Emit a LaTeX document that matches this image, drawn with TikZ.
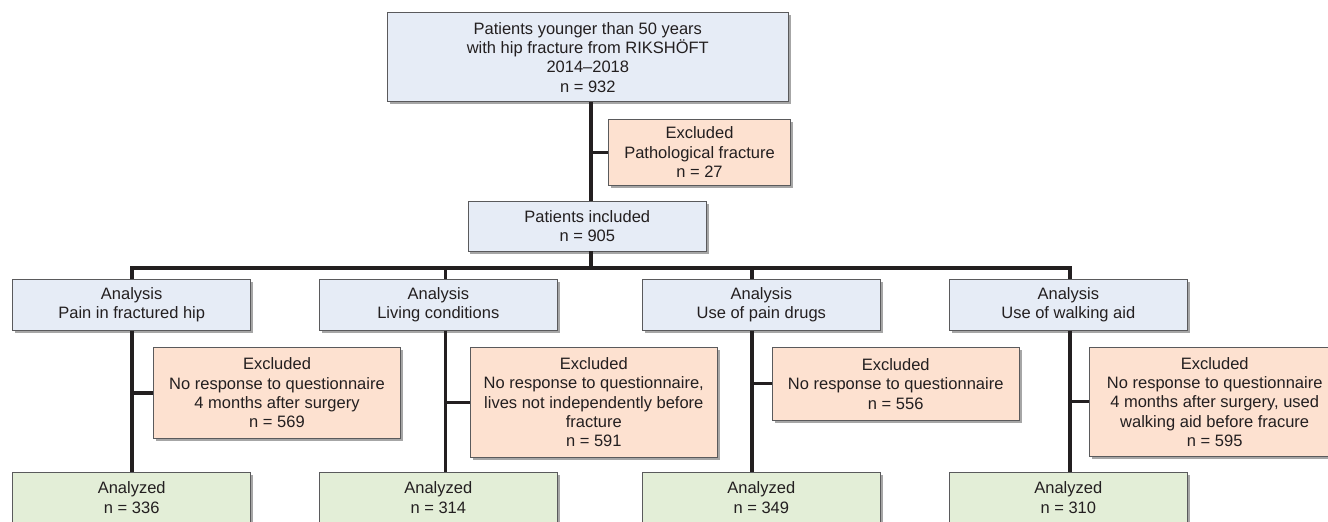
\documentclass[tikz,border=0pt]{standalone}
\usepackage{fontspec}
\setmainfont{Liberation Sans}
\usetikzlibrary{shadows}
\definecolor{boxblue}{HTML}{E6ECF6}
\definecolor{boxpeach}{HTML}{FDE1D0}
\definecolor{boxgreen}{HTML}{E3EED7}
\definecolor{boxline}{HTML}{5A5A5C}
\definecolor{ink}{HTML}{231F20}

\begin{document}
\begin{tikzpicture}[x=1pt,y=-1pt,
  box/.style={draw=boxline, line width=0.8pt, align=center, inner sep=0pt, text=ink,
    font=\fontsize{16.5}{19.3}\selectfont,
    drop shadow={shadow xshift=2.5pt, shadow yshift=-2.5pt, opacity=0.35, fill=black}},
  stage/.style={box, fill=boxblue},
  excl/.style={box, fill=boxpeach},
  done/.style={box, fill=boxgreen},
  conn/.style={draw=ink, line width=3.3pt}]
  \path[use as bounding box, clip] (0,0) rectangle (1328,522); % page size

  \coordinate (trunk) at (591,0);    %main line
  \coordinate (bus) at (0,268);      %branch line
  \coordinate (colA) at (132,0);
  \coordinate (colB) at (445.7,0);
  \coordinate (colC) at (752,0);
  \coordinate (colD) at (1070,0);

  \node[stage, minimum width=401pt, minimum height=89pt] (top) at (587.8,57.2)
    {Patients younger than 50 years\\with hip fracture from RIKSHÖFT\\2014–2018\\n = 932};
  \node[excl, minimum width=182.4pt, minimum height=65.7pt] (exTop) at (699.5,152.2)
    {Excluded\\Pathological fracture\\n = 27};
  \node[stage, minimum width=238.7pt, minimum height=50pt] (incl) at (587.3,226)
    {Patients included\\n = 905};

  % analysis boxes
  \node[stage, minimum width=238pt, minimum height=50.5pt] (aPain) at (131.7,305) {Analysis\\Pain in fractured hip};
  \node[stage, minimum width=238pt, minimum height=50.5pt] (aLiving) at (438.3,305) {Analysis\\Living conditions};
  \node[stage, minimum width=238pt, minimum height=50.5pt] (aDrugs) at (761.3,305) {Analysis\\Use of pain drugs};
  \node[stage, minimum width=238pt, minimum height=50.5pt] (aWalk) at (1068.3,305) {Analysis\\Use of walking aid};

  % excluded boxes
  \node[excl, minimum width=247.7pt, minimum height=91.7pt] (exPain) at (277,393)
    {Excluded\\No response to questionnaire\\4 months after surgery\\n = 569};
  \node[excl, minimum width=247pt, minimum height=109.7pt] (exLiving) at (593.8,402.2)
    {Excluded\\No response to questionnaire,\\lives not independently before\\fracture\\n = 591};
  \node[excl, minimum width=246.7pt, minimum height=73pt] (exDrugs) at (895.7,383.8)
    {Excluded\\No response to questionnaire\\n = 556};
  \node[excl, minimum width=251pt, minimum height=109pt] (exWalk) at (1214.7,401.8)
    {Excluded\\No response to questionnaire\\4 months after surgery, used\\walking aid before fracure\\n = 595};

  % analyzed boxes
  \node[done, minimum width=238pt, minimum height=50pt] (nPain) at (131.7,497.7) {Analyzed\\n = 336};
  \node[done, minimum width=238pt, minimum height=50pt] (nLiving) at (438.3,497.7) {Analyzed\\n = 314};
  \node[done, minimum width=238pt, minimum height=50pt] (nDrugs) at (761.3,497.7) {Analyzed\\n = 349};
  \node[done, minimum width=238pt, minimum height=50pt] (nWalk) at (1068.3,497.7) {Analyzed\\n = 310};

  \draw[conn] (top.south -| trunk) -- (incl.north -| trunk);  %Draw main line
  \draw[conn] (exTop.west) -- (exTop.west -| trunk);
  \draw[conn] (incl.south -| trunk) -- (trunk |- bus);
  \draw[conn] (aPain.north -| colA) -- (colA |- bus) -- (colD |- bus) -- (aWalk.north -| colD); %Draw branch line
  \draw[conn] (colB |- bus) -- (aLiving.north -| colB);
  \draw[conn] (colC |- bus) -- (aDrugs.north -| colC);

  \draw[conn] (aPain.south -| colA) -- (nPain.north -| colA);
  \draw[conn] (exPain.west) -- (exPain.west -| colA);
  \draw[conn] (aLiving.south -| colB) -- (nLiving.north -| colB);
  \draw[conn] (exLiving.west) -- (exLiving.west -| colB);
  \draw[conn] (aDrugs.south -| colC) -- (nDrugs.north -| colC);
  \draw[conn] (exDrugs.west) -- (exDrugs.west -| colC);
  \draw[conn] (aWalk.south -| colD) -- (nWalk.north -| colD);
  \draw[conn] (exWalk.west) -- (exWalk.west -| colD);
\end{tikzpicture}
\end{document}
